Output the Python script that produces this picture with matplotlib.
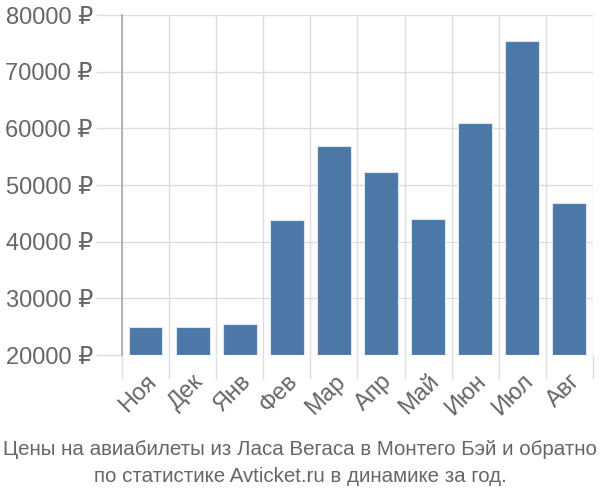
import matplotlib
matplotlib.use('Agg')
import matplotlib.pyplot as plt
import numpy as np

months = ['Ноя', 'Дек', 'Янв', 'Фев', 'Мар', 'Апр', 'Май', 'Июн', 'Июл', 'Авг']
prices = [24900, 24900, 25500, 43800, 56900, 52300, 44000, 60950, 75500, 46800]
yticks = [20000, 30000, 40000, 50000, 60000, 70000, 80000]
title = 'Цены на авиабилеты из Ласа Вегаса в Монтего Бэй и обратно\nпо статистике Avticket.ru в динамике за год.'

plt.rcParams['font.family'] = ['Liberation Sans', 'DejaVu Sans']

fig = plt.figure(figsize=(6, 5), dpi=100)
ax = fig.add_axes([0.2033, 0.29, 0.785, 0.68])

x = np.arange(len(months))
ax.bar(x, np.array(prices) - 20000, bottom=20000, width=0.72,
       color='#4c78a8', edgecolor='#dde6f0', linewidth=0.8, zorder=3)

ax.set_xlim(-0.5, len(months) - 0.5)
ax.set_ylim(20000, 80000)
ax.set_yticks(yticks)
ax.set_yticklabels([f'{v} ₽' for v in yticks], fontsize=17, color='#666666')

# gridlines between categories
ax.set_xticks(np.arange(len(months) + 1) - 0.5, minor=True)
ax.set_xticks(x)
ax.set_xticklabels(months, rotation=45, ha='right', rotation_mode='anchor',
                   fontsize=17, color='#666666')
ax.tick_params(axis='x', which='major', length=0, pad=11)
ax.tick_params(axis='x', which='minor', length=17, color='#dddddd', width=1)
ax.tick_params(axis='y', length=19, color='#dddddd', width=1, pad=2)
ax.grid(True, which='minor', axis='x', color='#dddddd', linewidth=1, zorder=0)
ax.grid(True, which='major', axis='y', color='#dddddd', linewidth=1, zorder=0)

for s in ['top', 'right', 'bottom']:
    ax.spines[s].set_visible(False)
ax.spines['left'].set_color('#aaaaaa')
ax.spines['left'].set_linewidth(1.2)

fig.text(0.5, 0.028, title, ha='center', va='bottom', fontsize=14.8,
         color='#666666', linespacing=1.55)

fig.savefig('out.png', dpi=100)
